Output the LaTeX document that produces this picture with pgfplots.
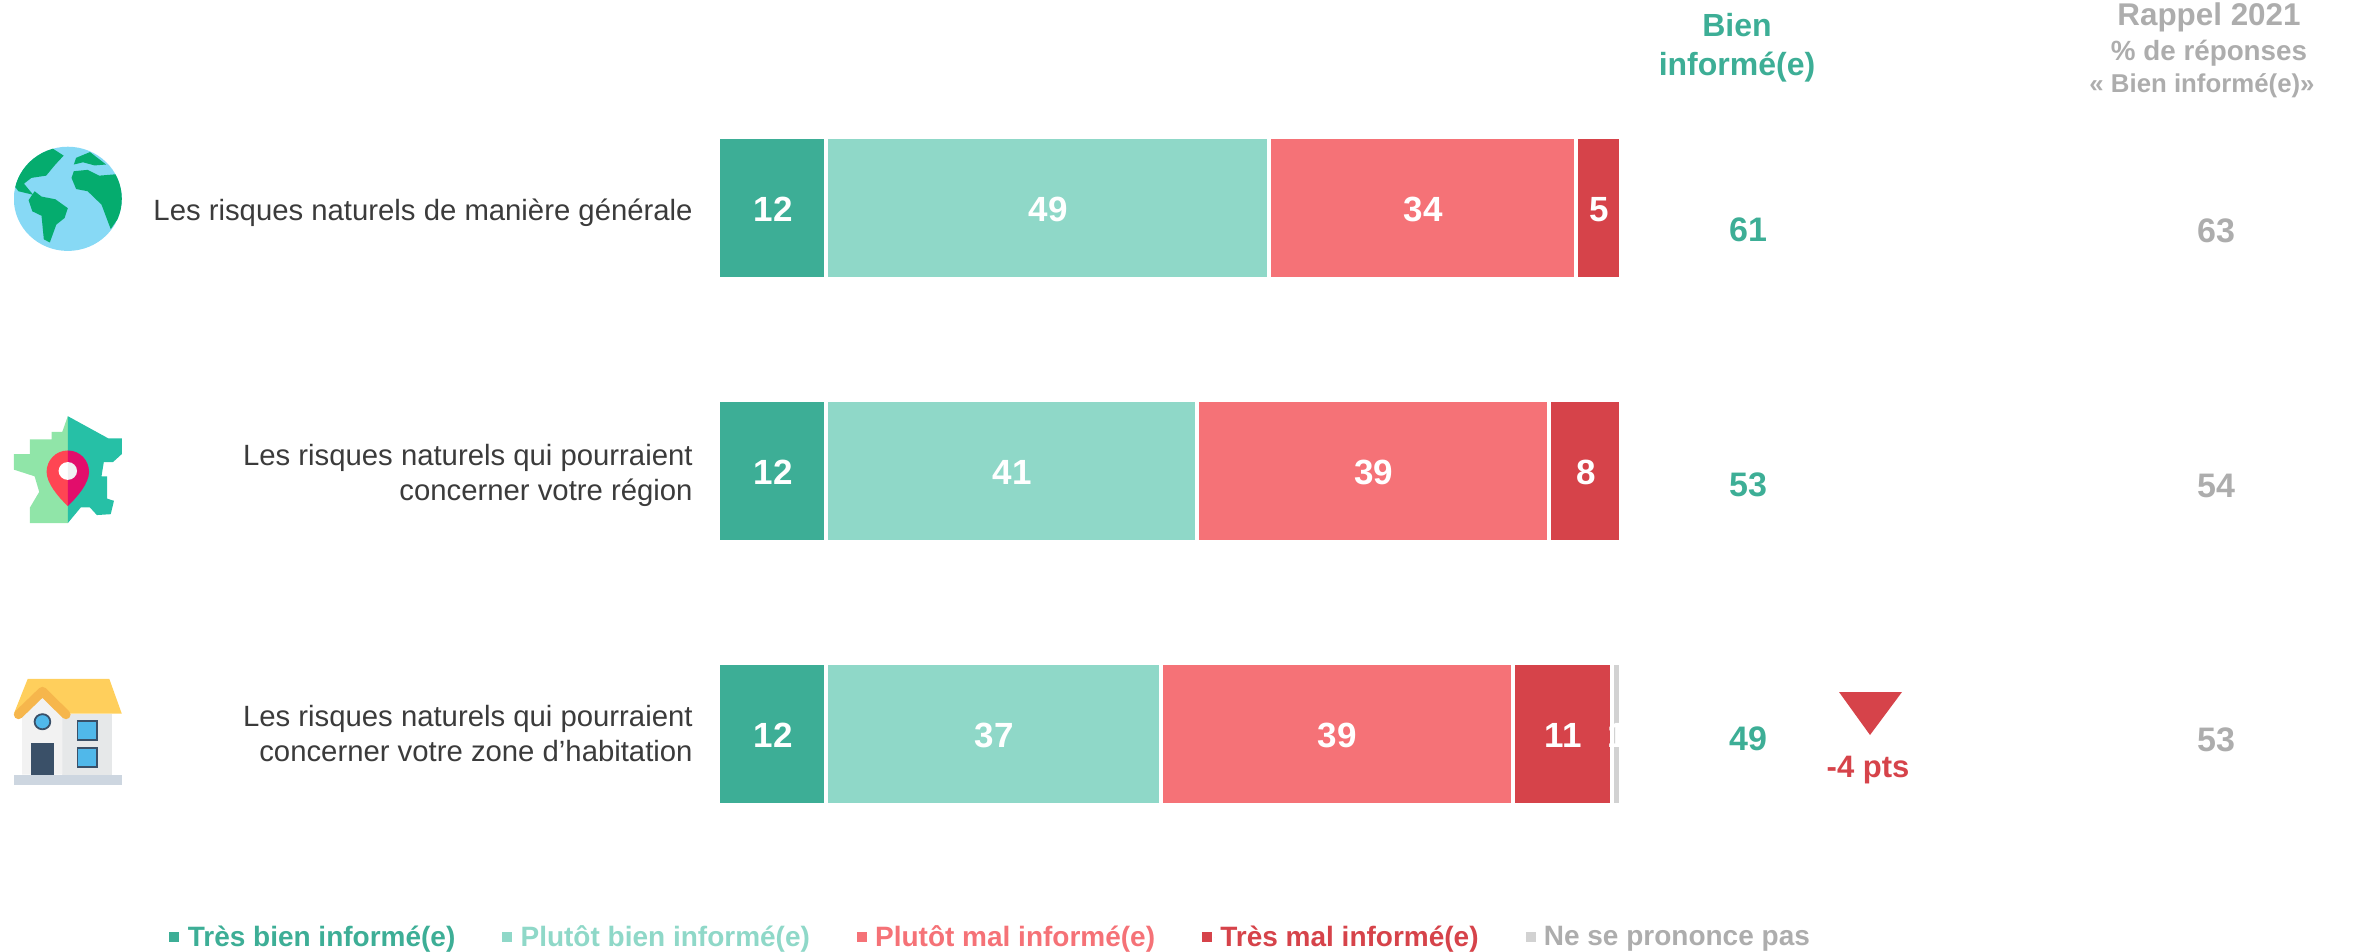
\documentclass[border=0pt]{standalone}
\usepackage{pgfplots}
\pgfplotsset{compat=1.18}
\usepackage{fontspec}
\setmainfont{Liberation Sans}
\definecolor{cA}{HTML}{3DAE96}
\definecolor{cB}{HTML}{8FD8C8}
\definecolor{cC}{HTML}{F57277}
\definecolor{cD}{HTML}{D6434A}
\definecolor{cE}{HTML}{D2D2D2}
\definecolor{tG}{HTML}{ADADAD}
\definecolor{tD}{HTML}{3B3B3B}
\definecolor{gSea}{HTML}{87D9F5}
\definecolor{gLand}{HTML}{05AC6E}
\definecolor{fL}{HTML}{90E5A8}
\definecolor{fR}{HTML}{26C0A6}
\definecolor{pL}{HTML}{FF4553}
\definecolor{pR}{HTML}{E20D6B}
\definecolor{hRoof}{HTML}{FFCF5C}
\definecolor{hGable}{HTML}{F6B64C}
\definecolor{hW}{HTML}{F2F2F2}
\definecolor{hWr}{HTML}{E6E8E9}
\definecolor{hBase}{HTML}{CDD6E0}
\definecolor{hBlue}{HTML}{50B8EA}
\definecolor{hDark}{HTML}{3A5068}
\pgfplotstableread{
row A B C D E
0 12 49 34 5 0
1 12 41 39 8 0
2 12 37 39 11 1
}\bars
\pgfplotstableread{
x y v
6 0 12
36.5 0 49
78 0 34
97.5 0 5
6 1 12
32.5 1 41
72.5 1 39
96 1 8
6 2 12
30.5 2 37
68.5 2 39
93.5 2 11
99.5 2 1
}\barlabels
\begin{document}
\begin{tikzpicture}
\useasboundingbox (0,0) rectangle (1181pt,476pt);
\begin{axis}[at={(0,0)},anchor=south west,scale only axis,width=1181pt,height=476pt,
  hide axis,clip=false,
  xbar stacked,bar width=71pt,
  xmin=-79.513,xmax=182.06,ymin=-0.79087,ymax=2.8289,y dir=reverse,
  legend columns=5,
  legend style={draw=none,fill=none,at={(167.5/2362,1-937.5/952)},anchor=west,inner sep=0pt,outer sep=0pt,
    font=\fontsize{14pt}{17pt}\bfseries,
    /tikz/every even column/.append style={column sep=20.45pt}},
  legend cell align=left,
  legend image code/.code={\path (0pt,0pt)--(6.15pt,0pt);\fill[#1,draw=none] (0pt,-2.5pt) rectangle (5pt,2.5pt);},
]
\addplot[fill=cA,draw=white,line width=2pt] table[x=A,y=row]{\bars};
\addplot[fill=cB,draw=white,line width=2pt] table[x=B,y=row]{\bars};
\addplot[fill=cC,draw=white,line width=2pt] table[x=C,y=row]{\bars};
\addplot[fill=cD,draw=white,line width=2pt] table[x=D,y=row]{\bars};
\addplot[fill=cE,draw=white,line width=2pt] table[x=E,y=row]{\bars};
\addlegendentry{\textcolor{cA}{Très bien informé(e)}}
\addlegendentry{\textcolor{cB}{Plutôt bien informé(e)}}
\addlegendentry{\textcolor{cC}{Plutôt mal informé(e)}}
\addlegendentry{\textcolor{cD}{Très mal informé(e)}}
\addlegendentry{\textcolor{tG}{Ne se prononce pas}}
\end{axis}
\begin{axis}[at={(0,0)},anchor=south west,scale only axis,width=1181pt,height=476pt,
  hide axis,clip=false,
  xmin=-79.513,xmax=182.06,ymin=-0.79087,ymax=2.8289,y dir=reverse]
\addplot[only marks,mark=none,nodes near coords,point meta=explicit symbolic,
  every node near coord/.style={anchor=center,xshift=0.4pt,yshift=-0.6pt,text=white,font=\fontsize{17.5pt}{20pt}\bfseries,inner sep=0pt}]
  table[x=x,y=y,meta=v]{\barlabels};
\end{axis}
\begin{axis}[at={(0,0)},anchor=south west,scale only axis,width=1181pt,height=476pt,
  hide axis,clip=false,xmin=0,xmax=2362,ymin=0,ymax=952,y dir=reverse]
\addplot[only marks,mark=none,nodes near coords,point meta=explicit symbolic,
  every node near coord/.style={anchor=center,text=cA,font=\fontsize{17pt}{20pt}\bfseries,inner sep=0pt}]
  table[meta=v]{
x y v
1748 230 61
1748 485 53
1748 739 49
};
\addplot[only marks,mark=none,nodes near coords,point meta=explicit symbolic,
  every node near coord/.style={anchor=center,text=tG,font=\fontsize{17pt}{20pt}\bfseries,inner sep=0pt}]
  table[meta=v]{
x y v
2216 231 63
2216 486 54
2216 740 53
};
\addplot[fill=cD,draw=none] coordinates {(1839,692)(1902,692)(1870,735)} -- cycle;
\node[text=cD,font=\fontsize{15.5pt}{18pt}\bfseries] at (axis cs:1868,770) {-4 pts};
\node[text=cA,font=\fontsize{16pt}{19.5pt}\bfseries,align=center] at (axis cs:1737,48) {Bien\\informé(e)};
\node[text=tG,font=\fontsize{15.7pt}{18pt}\bfseries] at (axis cs:2209,17) {Rappel 2021};
\node[text=tG,font=\fontsize{13.9pt}{17pt}\bfseries] at (axis cs:2209,53) {\% de réponses};
\node[text=tG,font=\fontsize{12.9pt}{17pt}\bfseries] at (axis cs:2202,86) {« Bien informé(e)»};
\node[text=tD,font=\fontsize{14.65pt}{17.5pt}\selectfont,anchor=east,align=right,inner sep=0pt] at (axis cs:693,213) {Les risques naturels de manière générale};
\node[text=tD,font=\fontsize{14.65pt}{17.5pt}\selectfont,anchor=east,align=right,inner sep=0pt] at (axis cs:693,475) {Les risques naturels qui pourraient\\concerner votre région};
\node[text=tD,font=\fontsize{14.65pt}{17.5pt}\selectfont,anchor=east,align=right,inner sep=0pt] at (axis cs:693,734) {Les risques naturels qui pourraient\\concerner votre zone d’habitation};
\end{axis}
\begin{scope}[shift={(0pt,416pt)},x=0.2307pt,y=-0.2227pt]
% globe
\begin{scope}
\clip (147,177) circle [radius=117];
\fill[gSea] (30,55) rectangle (264,300);
\fill[gLand] (108,60)--(138,80)--(120,100)--(100,125)--(68,130)--(52,143)--(72,168)--(40,160)--(25,140)--(60,80)--cycle;
\fill[gLand] (75,160)--(90,172)--(120,178)--(147,198)--(140,220)--(122,235)--(108,275)--(95,268)--(90,215)--(70,205)--(62,180)--cycle;
\fill[gLand] (165,85)--(195,72)--(230,100)--(205,102)--(180,95)--(160,100)--cycle;
\fill[gLand] (160,115)--(190,112)--(215,125)--(250,122)--(270,140)--(270,200)--(240,245)--(220,190)--(190,160)--(165,155)--(155,130)--cycle;
\end{scope}
% France
\fill[fL] (147,665)--(147,905)--(65,905)--(65,870)--(85,835)--(75,800)--(30,785)--(30,750)--(65,750)--(65,717)--(112,717)--(112,700)--(135,700)--cycle;
\fill[fR] (147,665)--(235,715)--(264,715)--(264,750)--(245,768)--(225,768)--(220,800)--(232,800)--(232,850)--(247,855)--(240,885)--(210,887)--(195,870)--(175,870)--(147,905)--cycle;
\fill[pL] (147,742) .. controls (120,742) and (101,765) .. (101,790) .. controls (101,815) and (125,845) .. (147,867) -- cycle;
\fill[pR] (147,742) .. controls (174,742) and (193,765) .. (193,790) .. controls (193,815) and (169,845) .. (147,867) -- cycle;
\fill[white] (147,768) .. controls (136,768) and (127,777) .. (127,788) .. controls (127,799) and (136,808) .. (147,808) -- cycle;
\fill[hWr!60!white] (147,768) .. controls (158,768) and (167,777) .. (167,788) .. controls (167,799) and (158,808) .. (147,808) -- cycle;
% House
\fill[hWr] (135,1333) rectangle (242,1470);
\fill[hRoof] (60,1255)--(237,1255)--(264,1333)--(135,1333)--(92,1290)--(30,1333)--cycle;
\fill[hW] (48,1470)--(48,1330)--(92,1290)--(135,1330)--(135,1470)--cycle;
\draw[hGable,line width=4.6pt,line cap=round,line join=round] (40,1335)--(92,1283)--(143,1335);
\fill[hBase] (30,1470) rectangle (264,1493);
\fill[hBlue,draw=hDark,line width=0.9pt] (92,1351) circle [radius=17];
\fill[hDark] (67,1398) rectangle (116,1470);
\fill[hBlue,draw=hDark,line width=0.9pt] (168,1350) rectangle (210,1392);
\fill[hBlue,draw=hDark,line width=0.9pt] (168,1410) rectangle (210,1452);
\end{scope}
\end{tikzpicture}
\end{document}
